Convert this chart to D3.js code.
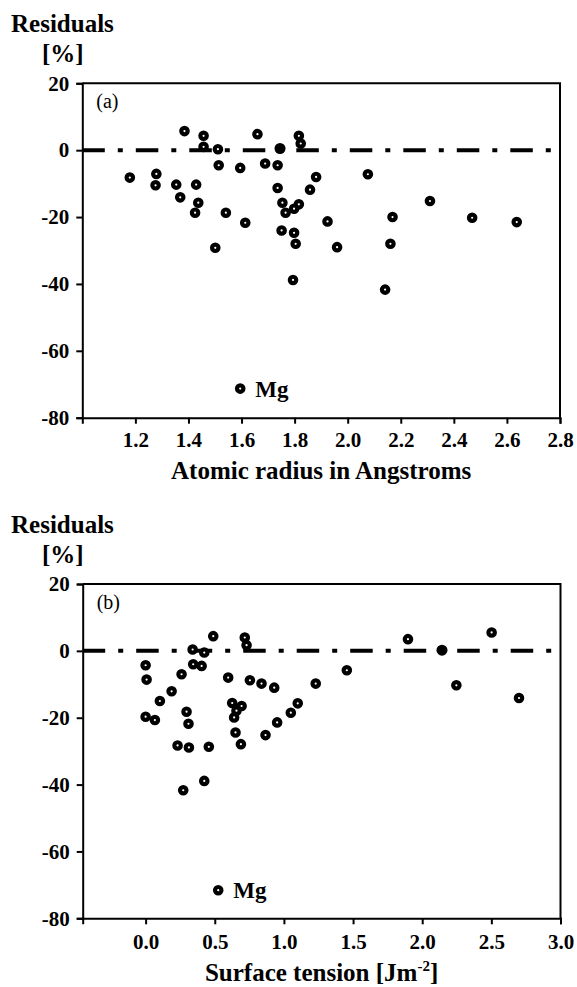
<!DOCTYPE html>
<html lang="en">
<head>
    <meta charset="UTF-8">
    <title>Residuals</title>
    <script src="https://d3js.org/d3.v7.min.js"></script>
    <style>
        body { margin: 0; background: #fff; }
        .axis path, .axis line { stroke: #000; stroke-width: 2px; }
    </style>
</head>
<body>
<svg id="chart" width="577" height="987"></svg>
<script>
    // panel (a): atomic radius [A] vs residual [%]
    const radiusX = [1.179, 1.279, 1.276, 1.354, 1.369, 1.385, 1.429, 1.437, 1.425, 1.457,
        1.457, 1.501, 1.511, 1.514, 1.541, 1.595, 1.614, 1.660, 1.689, 1.736,
        1.736, 1.754, 1.766, 1.751, 1.798, 1.816, 1.798, 1.804, 1.794, 1.816,
        1.823, 1.858, 1.881, 1.924, 1.960, 2.076, 2.141, 2.161, 2.169, 2.310,
        2.469, 2.637];
    const radiusRes = [-8.2, -7.1, -10.5, -10.3, -14.1, 5.7, -10.3, -15.7, -18.7, 4.3,
        1.0, -29.2, 0.3, -4.5, -18.7, -5.3, -21.7, 4.8, -4.0, -4.5,
        -11.3, -15.7, -18.7, -24.0, -17.5, -16.2, -24.7, -28.0, -38.8, 4.3,
        2.0, -11.8, -8.0, -21.3, -29.0, -7.2, -41.7, -28.0, -20.0, -15.2,
        -20.2, -21.5];
    const radiusSolid = [[1.745, 0.5]];
    const radiusMg = [1.595, -71.3];
    const radiusTicks = [1.2, 1.4, 1.6, 1.8, 2.0, 2.2, 2.4, 2.6, 2.8];

    // panel (b): surface tension [J/m2] vs residual [%]
    const tensionX = [0.0, 0.007, 0.0, 0.067, 0.103, 0.188, 0.26, 0.34, 0.424, 0.344,
        0.405, 0.489, 0.296, 0.31, 0.231, 0.313, 0.457, 0.424, 0.272, 0.597,
        0.717, 0.730, 0.754, 0.838, 0.93, 0.626, 0.694, 0.657, 0.640, 0.650,
        0.689, 0.867, 0.951, 1.05, 1.10, 1.23, 1.455, 1.897, 2.247, 2.502,
        2.700];
    const tensionRes = [-4.3, -8.6, -19.7, -20.7, -15.0, -12.1, -7.0, 0.4, -0.5, -4.0,
        -4.5, 4.4, -18.2, -21.8, -28.3, -28.9, -28.7, -38.9, -41.7, -8.0,
        4.0, 1.7, -8.8, -9.8, -11.0, -15.6, -16.5, -17.9, -19.9, -24.4,
        -27.9, -25.2, -21.4, -18.5, -15.7, -9.8, -5.8, 3.5, -10.3, 5.5,
        -14.1];
    const tensionSolid = [[2.143, 0.2]];
    const tensionMg = [0.525, -71.6];
    const tensionTicks = [0.0, 0.5, 1.0, 1.5, 2.0, 2.5, 3.0];

    const yTicks = [20, 0, -20, -40, -60, -80];

    const serif = "'Liberation Serif', 'DejaVu Serif', serif";
    const svg = d3.select("#chart").style("font-family", serif);

    function drawPanel(p) {
        const g = svg.append("g");
        const x = d3.scaleLinear().domain(p.xDomain).range([p.left, p.right]);
        const y = d3.scaleLinear().domain([-80, 20]).range([p.bottom, p.top]);

        // frame top and right
        g.append("path")
            .attr("d", `M${p.left},${p.top}H${p.right}V${p.bottom}`)
            .attr("fill", "none").attr("stroke", "#000").attr("stroke-width", 2);

        g.append("g").attr("class", "axis")
            .attr("transform", `translate(${p.left},0)`)
            .call(d3.axisLeft(y).tickValues(yTicks).tickSize(6).tickPadding(7).tickFormat(d => String(d)));

        g.append("g").attr("class", "axis")
            .attr("transform", `translate(0,${p.bottom})`)
            .call(d3.axisBottom(x).tickValues(p.xTicks).tickSize(6).tickPadding(p.xPad).tickFormat(d => d.toFixed(1)));

        g.selectAll(".axis").attr("font-family", null).attr("font-size", null);
        g.selectAll(".tick text")
            .style("font-family", serif)
            .style("font-size", "21px").style("font-weight", "bold").attr("fill", "#000");

        // zero reference line
        g.append("line")
            .attr("x1", p.left).attr("x2", p.right - 5)
            .attr("y1", y(0)).attr("y2", y(0))
            .attr("stroke", "#000").attr("stroke-width", 4)
            .attr("stroke-dasharray", "22.5,13,5,13");

        const pts = p.xs.map((v, i) => [v, p.ys[i]]).concat([p.mg]);
        g.selectAll("circle.open").data(pts).enter().append("circle")
            .attr("class", "open")
            .attr("cx", d => x(d[0])).attr("cy", d => y(d[1]))
            .attr("r", 3.2).attr("fill", "#fff")
            .attr("stroke", "#000").attr("stroke-width", 4.2);

        g.selectAll("circle.solid").data(p.solid).enter().append("circle")
            .attr("class", "solid")
            .attr("cx", d => x(d[0])).attr("cy", d => y(d[1]))
            .attr("r", 5.5).attr("fill", "#000");

        g.append("text")
            .attr("x", x(p.mg[0]) + 15).attr("y", y(p.mg[1]) + 8)
            .style("font-family", serif)
            .style("font-size", "23px").style("font-weight", "bold")
            .text("Mg");

        g.append("text")
            .attr("x", p.left + 14).attr("y", p.top + 25)
            .style("font-family", serif)
            .style("font-size", "20px")
            .text(p.tag);

        g.append("text")
            .attr("x", 11).attr("y", p.top - 51)
            .style("font-family", serif)
            .style("font-size", "25px").style("font-weight", "bold")
            .text("Residuals");
        g.append("text")
            .attr("x", 42).attr("y", p.top - 21)
            .style("font-family", serif)
            .style("font-size", "25px").style("font-weight", "bold")
            .text("[%]");

        const title = g.append("text")
            .attr("x", (p.left + p.right) / 2).attr("y", p.titleY)
            .attr("text-anchor", "middle")
            .style("font-family", serif)
            .style("font-size", "25px").style("font-weight", "bold");
        title.append("tspan").text(p.title);
        if (p.sup) {
            title.append("tspan").attr("dy", -10).style("font-size", "15px").text(p.sup);
            title.append("tspan").attr("dy", 10).text("]");
        }
    }

    drawPanel({
        xDomain: [1.0, 2.8], xTicks: radiusTicks, xPad: 8,
        left: 82.3, right: 560, top: 83.3, bottom: 417.7,
        xs: radiusX, ys: radiusRes, solid: radiusSolid, mg: radiusMg,
        tag: "(a)", title: "Atomic radius in Angstroms", titleY: 479
    });

    drawPanel({
        xDomain: [-0.455, 3.0], xTicks: tensionTicks, xPad: 10,
        left: 82.7, right: 560.5, top: 584, bottom: 918.3,
        xs: tensionX, ys: tensionRes, solid: tensionSolid, mg: tensionMg,
        tag: "(b)", title: "Surface tension [Jm", sup: "-2", titleY: 981
    });
</script>
</body>
</html>
